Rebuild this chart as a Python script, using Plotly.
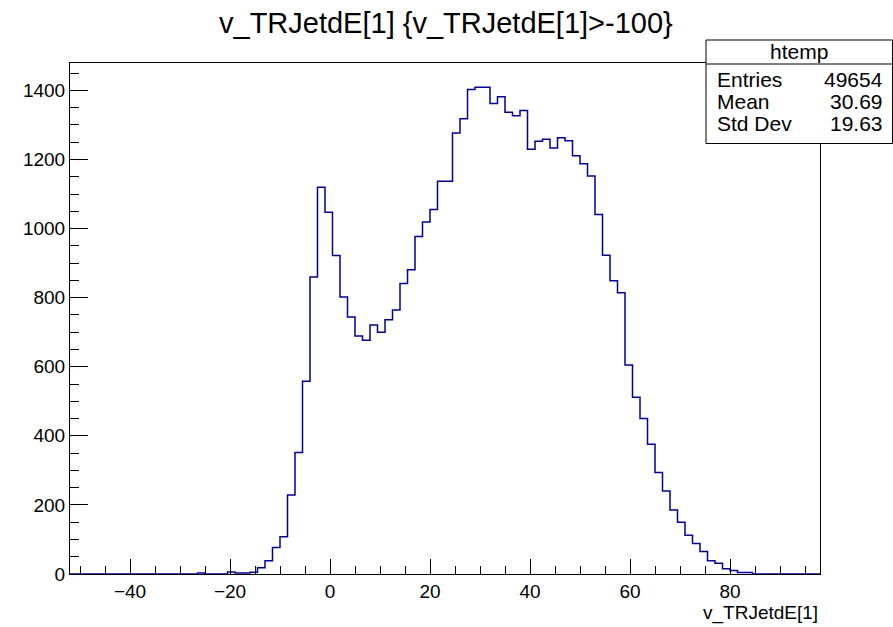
import numpy as np
import plotly.graph_objects as go

# Histogram definition: 100 bins from -52 to 98
n_bins = 100
x_low = -52.0
x_high = 98.0

# Bin contents, indexed by bin number (0..99); unlisted bins are empty
filled_bins = list(range(21, 91))
filled_counts = [
    6, 3, 3, 5, 18, 38, 77, 108, 229, 352,
    558, 860, 1120, 1047, 922, 802, 744, 689, 677, 721,
    700, 736, 764, 841, 881, 977, 1019, 1055, 1137, 1137,
    1277, 1318, 1403, 1409, 1409, 1362, 1382, 1337, 1327, 1342,
    1230, 1253, 1259, 1233, 1263, 1254, 1211, 1188, 1152, 1041,
    923, 849, 814, 605, 512, 450, 376, 294, 240, 185,
    150, 112, 88, 65, 38, 31, 15, 10, 4, 4,
]
extra_bins = [17]
extra_counts = [3]

stats_title = "htemp"
stats_labels = ["Entries", "Mean", "Std Dev"]
stats_values = ["49654", "30.69", "19.63"]

x_ticks = [-40, -20, 0, 20, 40, 60, 80]
y_ticks = [0, 200, 400, 600, 800, 1000, 1200, 1400]

counts = np.zeros(n_bins)
for b, c in zip(filled_bins + extra_bins, filled_counts + extra_counts):
    counts[b] = c

edges = np.linspace(x_low, x_high, n_bins + 1)
step_x = np.concatenate([edges[:-1], [edges[-1]]])
step_y = np.concatenate([counts, [counts[-1]]])

y_max = counts.max() * 1.05

font_family = "Liberation Sans, Arial, Helvetica, sans-serif"
line_col = "#000099"

fig = go.Figure()
fig.add_trace(go.Scatter(
    x=step_x, y=step_y, mode="lines", line_shape="hv",
    line=dict(color=line_col, width=1.5), hoverinfo="skip", showlegend=False,
))

axis_common = dict(
    showgrid=False, zeroline=False, showline=True, linecolor="black",
    linewidth=1, mirror=True, ticks="inside", tickcolor="black",
    tickfont=dict(family=font_family, size=19, color="black"),
)

fig.update_xaxes(
    range=[x_low, x_high], tickvals=x_ticks, ticklen=15, tickwidth=1,
    minor=dict(ticks="inside", dtick=5, tick0=0, ticklen=8, tickcolor="black"),
    **axis_common,
)
fig.update_yaxes(
    range=[0, y_max], tickvals=y_ticks, ticklen=18, tickwidth=1,
    minor=dict(ticks="inside", dtick=50, tick0=0, ticklen=9, tickcolor="black"),
    **axis_common,
)

# Pixel geometry of the plot frame
W, H = 893, 627
L, R, T, B = 70, 820, 63, 574
pw, ph = R - L, B - T


def px(xp):
    return (xp - L) / pw


def py(yp):
    return (B - yp) / ph


shapes = []
# Statistics box
shapes.append(dict(type="rect", xref="paper", yref="paper",
                   x0=px(706), x1=px(892.5), y0=py(143.5), y1=py(40),
                   line=dict(color="black", width=1), fillcolor="white",
                   layer="above"))
shapes.append(dict(type="line", xref="paper", yref="paper",
                   x0=px(706), x1=px(892.5), y0=py(64), y1=py(64),
                   line=dict(color="black", width=1), layer="above"))

annotations = [
    dict(text="v_TRJetdE[1] {v_TRJetdE[1]>-100}", xref="paper", yref="paper",
         x=px(446), y=py(23), xanchor="center", yanchor="middle",
         showarrow=False, font=dict(family=font_family, size=29, color="black")),
    dict(text="v_TRJetdE[1]", xref="paper", yref="paper",
         x=1.0, y=py(613), xanchor="right", yanchor="middle",
         showarrow=False, font=dict(family=font_family, size=19, color="black")),
    dict(text=stats_title, xref="paper", yref="paper",
         x=px(799), y=py(52), xanchor="center", yanchor="middle",
         showarrow=False, font=dict(family=font_family, size=21, color="black")),
]
row_y = [79, 101, 123]
for lab, val, yy in zip(stats_labels, stats_values, row_y):
    annotations.append(dict(text=lab, xref="paper", yref="paper",
                            x=px(715), y=py(yy), xanchor="left", yanchor="middle",
                            showarrow=False,
                            font=dict(family=font_family, size=21, color="black")))
    annotations.append(dict(text=val, xref="paper", yref="paper",
                            x=px(885), y=py(yy), xanchor="right", yanchor="middle",
                            showarrow=False,
                            font=dict(family=font_family, size=21, color="black")))

fig.update_layout(
    width=W, height=H,
    margin=dict(l=L, r=W - R, t=T, b=H - B, pad=0),
    paper_bgcolor="white", plot_bgcolor="white",
    shapes=shapes, annotations=annotations,
    font=dict(family=font_family, color="black"),
)

fig.write_html("out.html")
